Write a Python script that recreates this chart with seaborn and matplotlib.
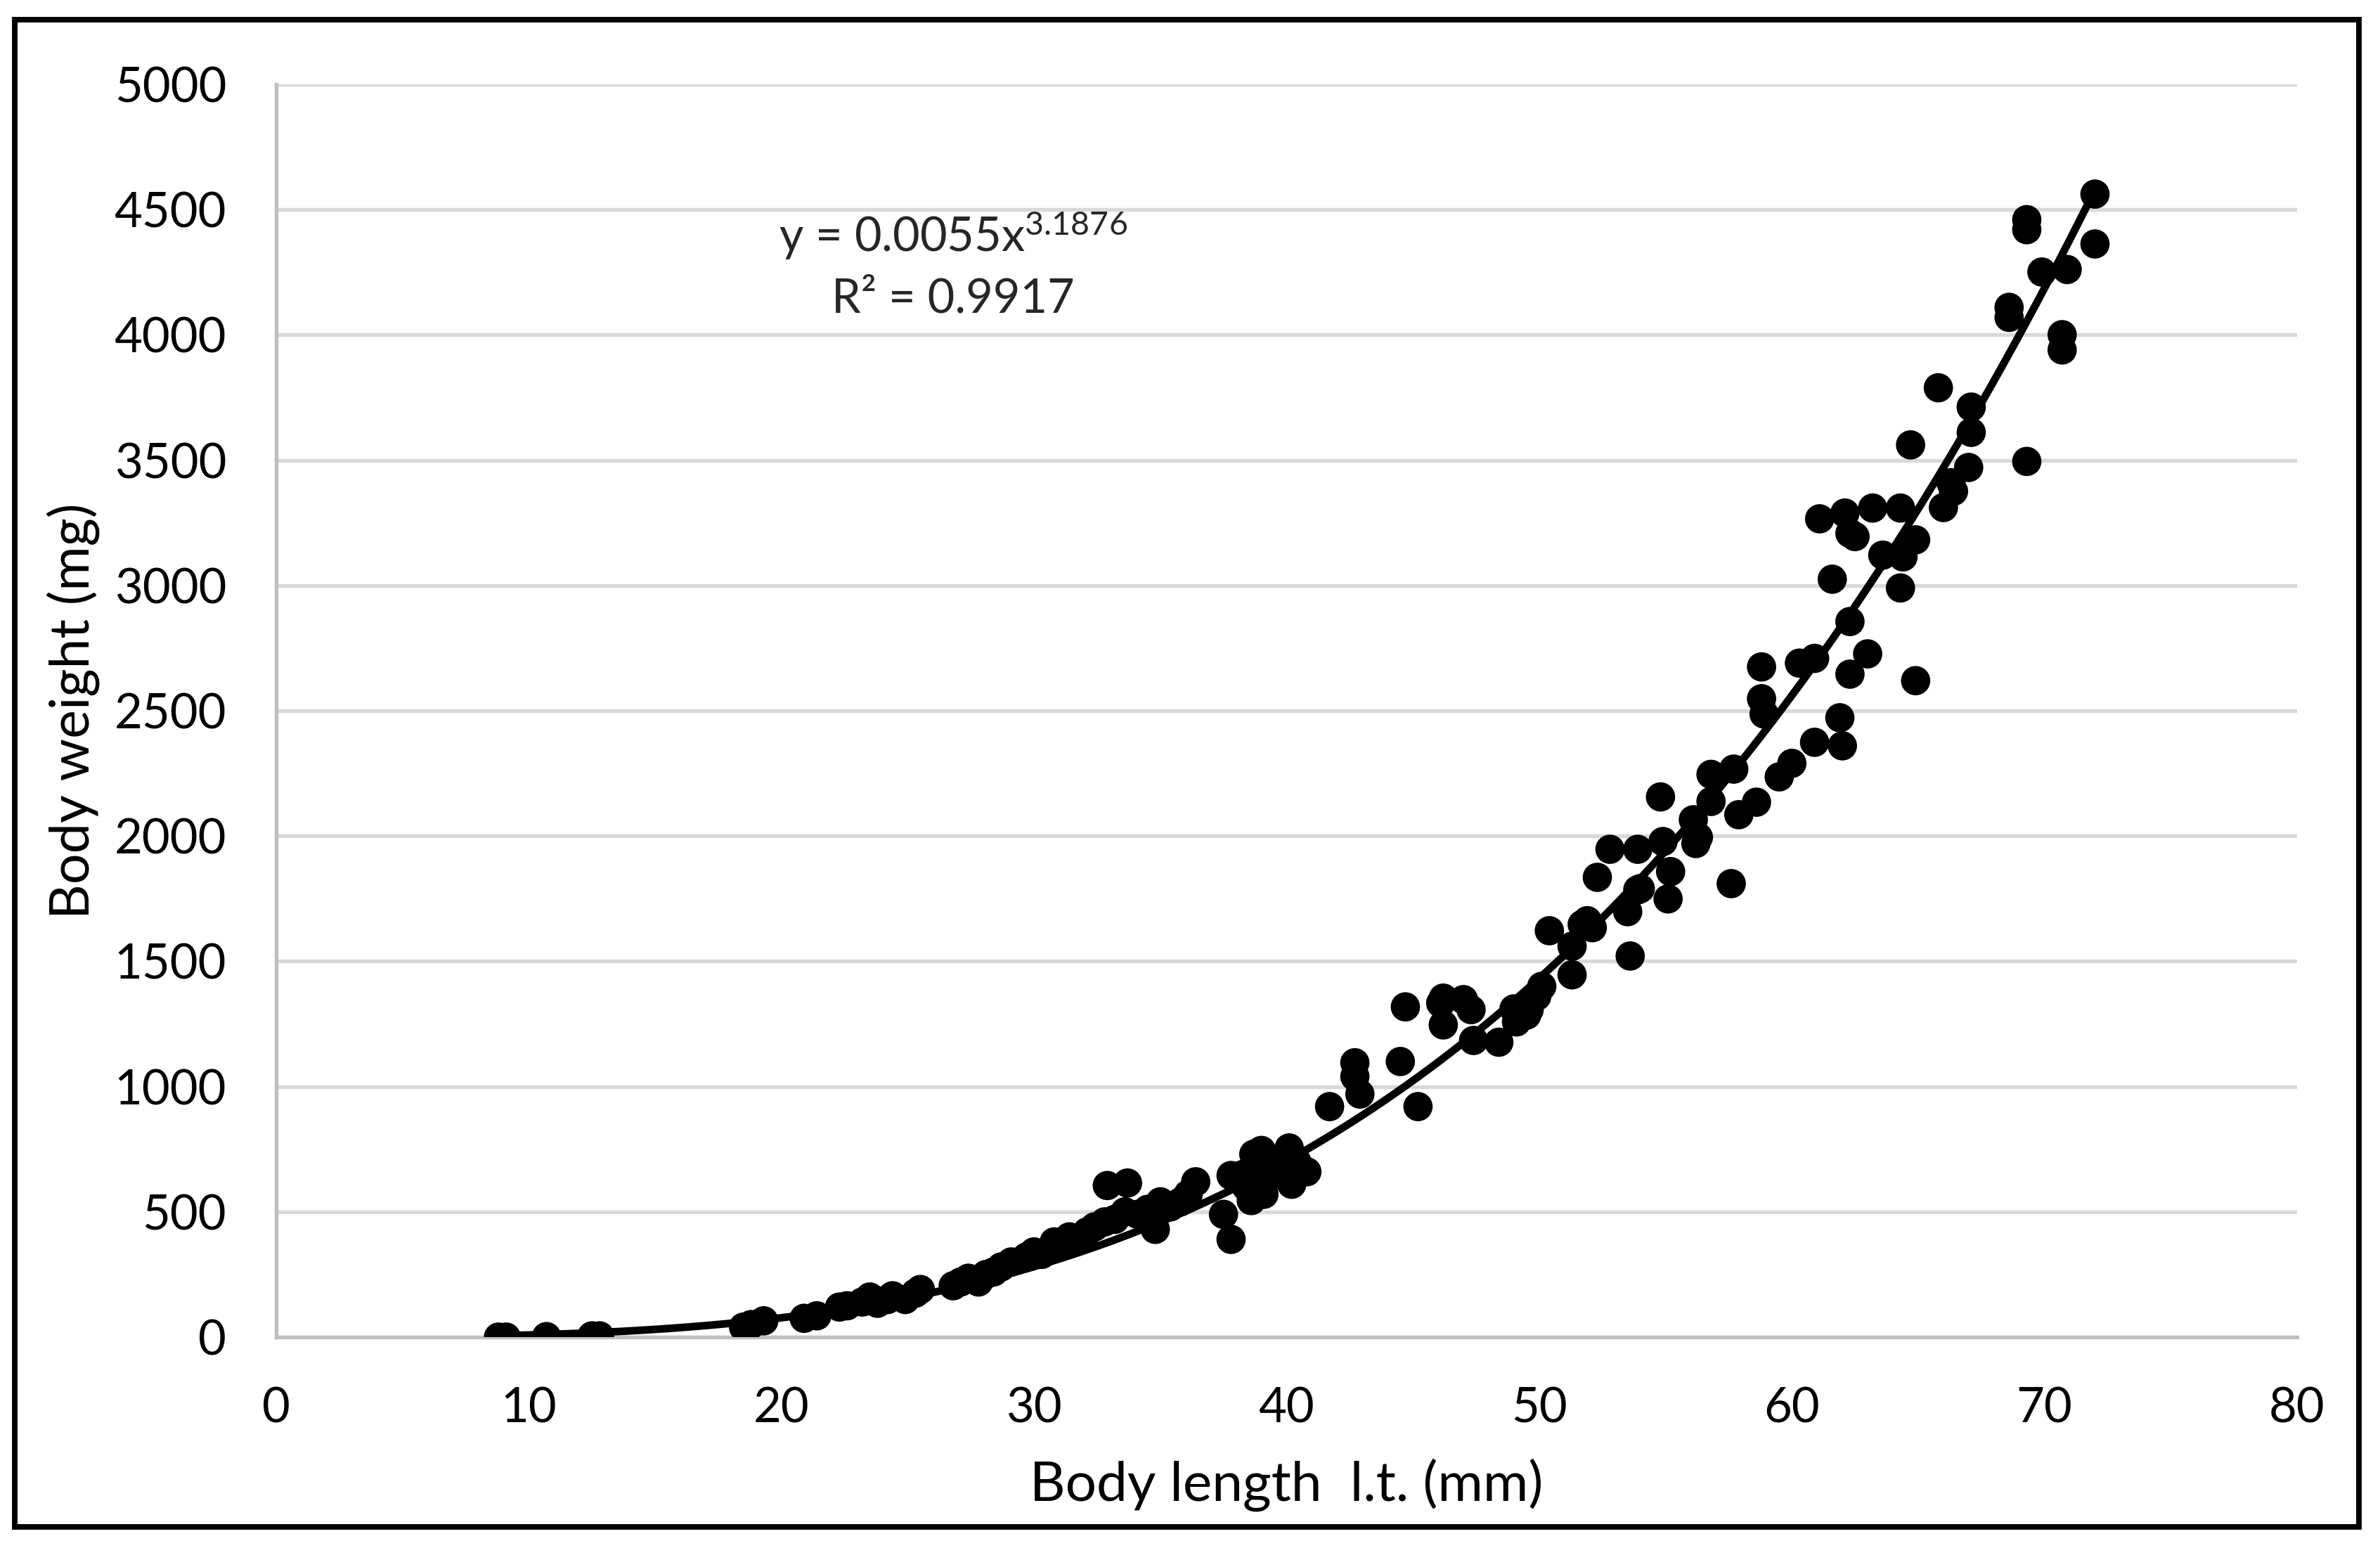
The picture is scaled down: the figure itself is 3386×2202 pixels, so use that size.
import seaborn as sns
import matplotlib.pyplot as plt
import numpy as np
import pandas as pd
from matplotlib.patches import Rectangle

# body length l.t. (mm)
length_mm = [
    8.8, 9.1, 10.7, 12.5, 12.8, 18.5, 18.8, 19.3, 20.9, 21.4,
    22.3, 22.6, 23.2, 23.5, 23.8, 24.2, 24.4, 24.9, 25.3, 25.5,
    26.8, 27.1, 27.4, 27.8, 28.1, 28.4, 28.7, 29.1, 29.7, 30.0, 30.3,
    30.8, 31.1, 31.4, 31.7, 32.1, 32.4, 32.8, 32.9, 33.2, 33.6, 33.7,
    34.1, 34.5, 34.8, 35.0, 35.4, 35.8, 36.1, 36.4,
    37.5, 37.8, 37.8, 38.3, 38.4, 38.6, 38.7, 38.9, 39.1, 39.0,
    39.2, 39.5, 39.7, 40.0, 40.1, 40.2, 40.4, 40.6, 40.8,
    41.7, 42.7, 42.7, 42.9, 44.5, 44.7, 45.2, 46.1, 46.2, 46.2,
    47.0, 47.3, 47.4, 48.4, 49.0, 49.1, 49.5, 49.6, 49.9, 50.1,
    50.4, 51.3, 51.3, 51.7, 51.9, 52.1, 52.3, 52.8, 53.5, 53.6,
    53.9, 53.9, 54.0, 54.8, 54.9, 55.1, 55.2,
    56.1, 56.2, 56.3, 56.8, 56.8, 57.6, 57.7, 57.9, 58.6, 58.8,
    58.8, 58.9, 59.5, 60.0, 60.3, 60.9, 60.9, 61.6, 61.9, 62.0,
    62.3, 62.3, 63.0, 61.1, 62.1, 62.3, 62.5, 63.2, 64.3, 63.6,
    64.4, 64.9, 64.3, 64.9, 64.7, 65.8, 66.0, 66.3, 66.4, 67.0,
    67.1, 67.1, 68.6, 68.6, 69.3, 69.3, 69.3, 69.9, 70.7, 70.7,
    70.9, 72.0, 72.0,
]

# body weight (mg), same order
weight_mg = [
    0, 0, 2, 5, 5, 40, 50, 65, 75, 85,
    120, 125, 140, 160, 135, 150, 165, 150, 175, 190,
    205, 220, 235, 220, 250, 260, 280, 300, 320, 340, 330,
    380, 370, 400, 390, 420, 440, 460, 605, 470, 500, 615,
    490, 510, 430, 540, 520, 540, 570, 620,
    490, 390, 645, 650, 600, 545, 730, 690, 570, 745,
    630, 680, 710, 650, 755, 610, 700, 670, 660,
    920, 1095, 1040, 970, 1100, 1318, 920, 1333, 1246, 1353,
    1347, 1307, 1184, 1177, 1310, 1258, 1285, 1307, 1360, 1400,
    1622, 1560, 1446, 1647, 1662, 1634, 1835, 1947, 1698, 1521,
    1785, 1947, 1790, 2156, 1978, 1749, 1858,
    2065, 1970, 1995, 2138, 2246, 1810, 2267, 2085, 2135, 2675,
    2548, 2487, 2236, 2290, 2690, 2709, 2374, 3025, 2472, 2360,
    2856, 2646, 2727, 3266, 3289, 3208, 3195, 3309, 3309, 3121,
    3114, 3182, 2990, 2620, 3561, 3789, 3311, 3410, 3376, 3471,
    3611, 3712, 4110, 4070, 4460, 4420, 3495, 4251, 4001, 3940,
    4261, 4562, 4363,
]

# power trendline shown on the chart: y = a * x^b
coef_a = 0.0055
coef_b = 3.1876
r_squared = 0.9917

x_ticks = [0, 10, 20, 30, 40, 50, 60, 70, 80]
y_ticks = [0, 500, 1000, 1500, 2000, 2500, 3000, 3500, 4000, 4500, 5000]

df = pd.DataFrame({"length": length_mm, "weight": weight_mg})
x_fit = np.linspace(min(length_mm), max(length_mm), 300)
fit = pd.DataFrame({"length": x_fit, "weight": coef_a * x_fit ** coef_b})

sns.set_theme(style="white")
plt.rcParams["font.family"] = ["Lato", "DejaVu Sans"]
plt.rcParams["mathtext.default"] = "regular"

fig = plt.figure(figsize=(3387 / 300, 2202 / 300), dpi=300)
ax = fig.add_axes([393 / 3387, 1 - 1902 / 2202, (3268 - 393) / 3387, (1902 - 120) / 2202])

sns.scatterplot(data=df, x="length", y="weight", color="black", s=100,
                edgecolor="none", ax=ax, zorder=3)
sns.lineplot(data=fit, x="length", y="weight", color="black", linewidth=2.6,
             ax=ax, zorder=4)

ax.set_xlim(0, 80)
ax.set_ylim(0, 5000)
ax.set_xticks(x_ticks)
ax.set_yticks(y_ticks)
ax.tick_params(axis="both", length=0, labelsize=16.5, colors="black", pad=17)
ax.yaxis.grid(True, color="#d9d9d9", linewidth=1.3)
ax.xaxis.grid(False)
ax.set_axisbelow(True)
for side in ["top", "right"]:
    ax.spines[side].set_visible(False)
for side in ["left", "bottom"]:
    ax.spines[side].set_color("#bfbfbf")
    ax.spines[side].set_linewidth(1.3)

ax.set_xlabel("Body length  l.t. (mm)", fontsize=18.8, color="black", va="center")
ax.set_ylabel("Body weight (mg)", fontsize=18.5, color="black", va="center")
ax.xaxis.set_label_coords(0.5, -0.118)
ax.yaxis.set_label_coords(-0.1005, 0.5)

ax.text(26.8, 4397, f"y = {coef_a}x$^{{{coef_b}}}$", fontsize=16,
        ha="center", va="center")
ax.text(26.8, 4144, f"R² = {r_squared}", fontsize=16, ha="center", va="center")

# black frame around the whole chart
fig.patches.append(Rectangle((21 / 3387, 1 - 2172 / 2202), (3356 - 21) / 3387,
                             (2172 - 28) / 2202, transform=fig.transFigure,
                             fill=False, edgecolor="black", linewidth=1.9))

fig.savefig("out.png", dpi=300)
